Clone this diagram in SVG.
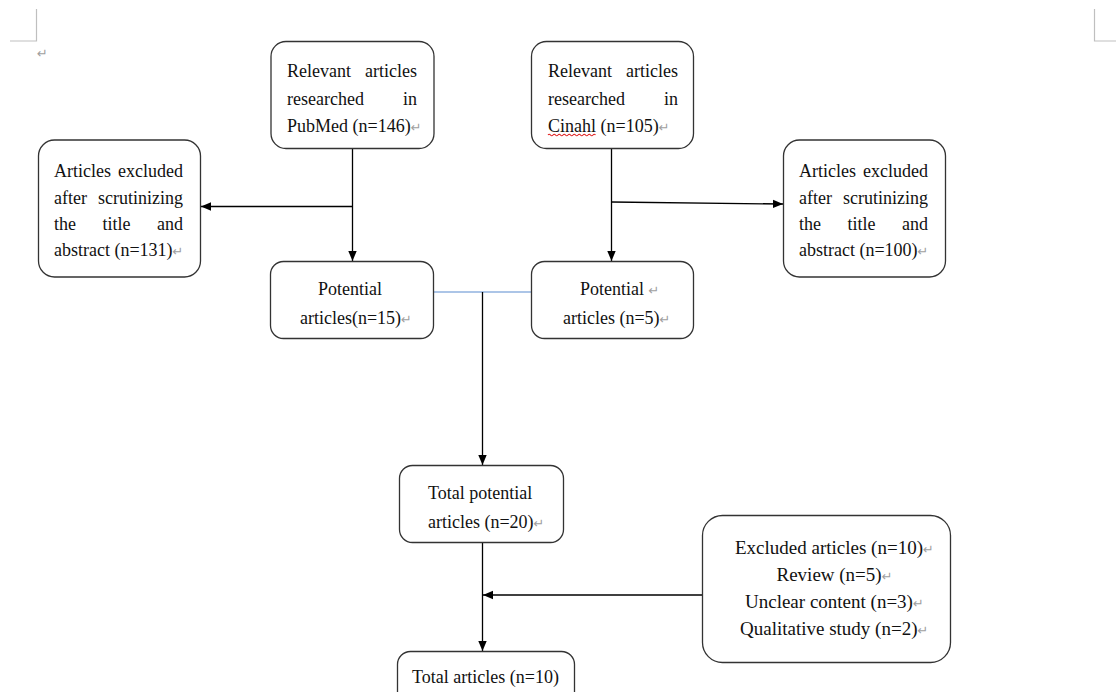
<svg xmlns="http://www.w3.org/2000/svg" width="1116" height="692" viewBox="0 0 1116 692">
<style>
.box{fill:#fff;stroke:#333;stroke-width:1.3}
.t{font-family:"Liberation Serif","Times New Roman",serif;font-size:18px;fill:#111}
.t19{font-size:19px}
.pm{font-family:"DejaVu Sans",sans-serif;font-size:13px;fill:#a0a0a0}
.conn{stroke:#000;stroke-width:1.3;fill:none}
.mark{stroke:#bfbfbf;stroke-width:1.2;fill:none}
</style>
<defs>
<marker id="ah" markerUnits="userSpaceOnUse" markerWidth="10" markerHeight="10" viewBox="0 0 10 10" refX="10" refY="5" orient="auto">
<path d="M0,0.8 L10,5 L0,9.2 Z" fill="#000"/>
</marker>
</defs>
<rect width="1116" height="692" fill="#fff"/>
<g id="page-marks">
<path class="mark" d="M36.5,9 V41 H10"/>
<path class="mark" d="M1094.5,9 V41 H1116"/>
<text class="pm" x="37" y="58">↵</text>
</g>
<g id="connectors">
<line class="conn" x1="352.5" y1="130" x2="352.5" y2="261" marker-end="url(#ah)"/>
<line class="conn" x1="352.5" y1="206.5" x2="201" y2="206.5" marker-end="url(#ah)"/>
<line class="conn" x1="611.5" y1="128" x2="611.5" y2="261" marker-end="url(#ah)"/>
<line class="conn" x1="611.5" y1="202" x2="783" y2="204" marker-end="url(#ah)"/>
<line x1="433" y1="292" x2="531" y2="292" stroke="#5b8bd0" stroke-width="1.2"/>
<line class="conn" x1="482.5" y1="292" x2="482.5" y2="465" marker-end="url(#ah)"/>
<line class="conn" x1="482.5" y1="542" x2="482.5" y2="651" marker-end="url(#ah)"/>
<line class="conn" x1="702" y1="595" x2="483" y2="595" marker-end="url(#ah)"/>
</g>
<g id="pubmed">
<rect class="box" x="271" y="41.5" width="163" height="107" rx="15"/>
<text class="t"><tspan x="287" y="77">Relevant</tspan><tspan x="365" y="77">articles</tspan><tspan x="287" y="104.5">researched</tspan><tspan x="403" y="104.5">in</tspan><tspan x="287" y="132">PubMed (n=146)</tspan><tspan class="pm">↵</tspan></text>
</g>
<g id="cinahl">
<rect class="box" x="531.5" y="41.5" width="162" height="107" rx="15"/>
<text class="t"><tspan x="548" y="77">Relevant</tspan><tspan x="626" y="77">articles</tspan><tspan x="548" y="104.5">researched</tspan><tspan x="664" y="104.5">in</tspan><tspan x="548" y="132">Cinahl (n=105)</tspan><tspan class="pm">↵</tspan></text>
<path d="M548,135 q1.25,-1.6 2.5,0 t2.5,0 t2.5,0 t2.5,0 t2.5,0 t2.5,0 t2.5,0 t2.5,0 t2.5,0 t2.5,0 t2.5,0 t2.5,0 t2.5,0 t2.5,0 t2.5,0 t2.5,0 t2.5,0 t2.5,0 t2.5,0" fill="none" stroke="#e02020" stroke-width="1.1"/>
</g>
<g id="excluded-left">
<rect class="box" x="38.5" y="140" width="162" height="137" rx="16"/>
<text class="t"><tspan x="54" y="177">Articles</tspan><tspan x="118" y="177">excluded</tspan><tspan x="54" y="204">after</tspan><tspan x="98" y="204">scrutinizing</tspan><tspan x="54" y="230">the</tspan><tspan x="102.5" y="230">title</tspan><tspan x="157" y="230">and</tspan><tspan x="54" y="256">abstract (n=131)</tspan><tspan class="pm">↵</tspan></text>
</g>
<g id="excluded-right">
<rect class="box" x="783.5" y="140" width="162" height="137" rx="16"/>
<text class="t"><tspan x="799" y="177">Articles</tspan><tspan x="863" y="177">excluded</tspan><tspan x="799" y="204">after</tspan><tspan x="843" y="204">scrutinizing</tspan><tspan x="799" y="230">the</tspan><tspan x="847.5" y="230">title</tspan><tspan x="902" y="230">and</tspan><tspan x="799" y="256">abstract (n=100)</tspan><tspan class="pm">↵</tspan></text>
</g>
<g id="potential-15">
<rect class="box" x="270.5" y="261.5" width="163" height="77" rx="13"/>
<text class="t"><tspan x="318" y="295">Potential</tspan><tspan x="300" y="324">articles(n=15)</tspan><tspan class="pm">↵</tspan></text>
</g>
<g id="potential-5">
<rect class="box" x="531.5" y="261.5" width="162" height="77" rx="13"/>
<text class="t"><tspan x="580" y="295">Potential </tspan><tspan class="pm">↵</tspan><tspan x="563" y="324">articles (n=5)</tspan><tspan class="pm">↵</tspan></text>
</g>
<g id="total-potential">
<rect class="box" x="399.5" y="465.5" width="164" height="77" rx="13"/>
<text class="t"><tspan x="428" y="499">Total potential</tspan><tspan x="428" y="528">articles (n=20)</tspan><tspan class="pm">↵</tspan></text>
</g>
<g id="excluded-articles">
<rect class="box" x="702.5" y="515.5" width="248" height="147" rx="20"/>
<text class="t t19"><tspan x="735" y="554">Excluded articles (n=10)</tspan><tspan class="pm">↵</tspan><tspan x="776.5" y="581">Review (n=5)</tspan><tspan class="pm">↵</tspan><tspan x="745" y="608">Unclear content (n=3)</tspan><tspan class="pm">↵</tspan><tspan x="740" y="635">Qualitative study (n=2)</tspan><tspan class="pm">↵</tspan></text>
</g>
<g id="total-articles">
<rect class="box" x="397.5" y="651.5" width="177" height="60" rx="13"/>
<text class="t" x="485.5" y="683" text-anchor="middle">Total articles (n=10)</text>
</g>
</svg>
